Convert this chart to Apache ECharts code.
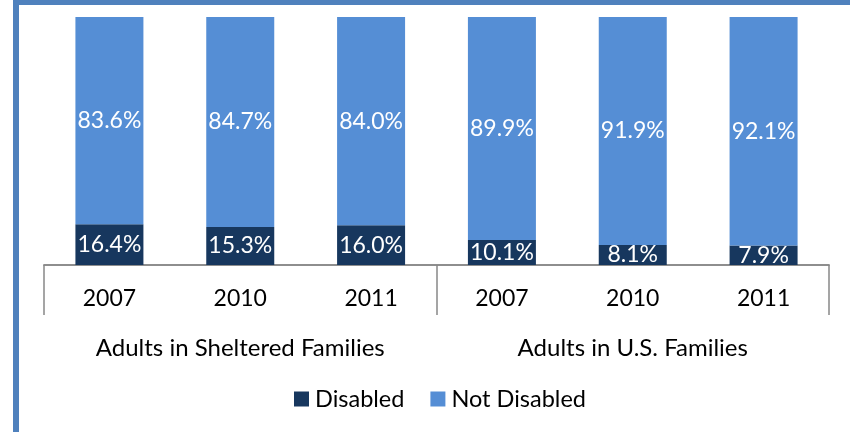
<!DOCTYPE html>
<html>
<head>
<meta charset="utf-8">
<script src="https://cdn.jsdelivr.net/npm/echarts@6/dist/echarts.min.js"></script>
<style>
html,body{margin:0;padding:0;background:#fff;}
#frame{position:absolute;left:13px;top:0;width:837px;height:432px;box-sizing:border-box;border-left:6px solid #4F81BD;border-top:5px solid #4F81BD;}
#chart{position:absolute;left:0;top:0;width:850px;height:432px;}
</style>
</head>
<body>
<div id="frame"></div>
<div id="chart"></div>
<script>
const years = ['2007', '2010', '2011', '2007', '2010', '2011'];
const groups = ['Adults in Sheltered Families', 'Adults in U.S. Families'];
const disabled = [16.4, 15.3, 16.0, 10.1, 8.1, 7.9];
const notDisabled = [83.6, 84.7, 84.0, 89.9, 91.9, 92.1];
const seriesNames = ['Disabled', 'Not Disabled'];

const FONT = 'Lato';
const chart = echarts.init(document.getElementById('chart'), null, {renderer: 'canvas'});
const labelFmt = p => p.value.toFixed(1) + '%';
chart.setOption({
  animation: false,
  textStyle: {fontFamily: FONT},
  legend: {
    data: seriesNames,
    bottom: 16,
    left: 289,
    itemWidth: 15,
    itemHeight: 15,
    itemGap: 26,
    icon: 'rect',
    textStyle: {fontSize: 23.5, color: '#000', fontFamily: FONT, padding: [0, 0, 0, 1]}
  },
  grid: {left: 44, right: 21, top: 17, bottom: 167},
  xAxis: [
    {
      type: 'category',
      data: years,
      position: 'bottom',
      axisLine: {show: true, lineStyle: {color: '#888', width: 1.5}},
      axisTick: {show: false},
      axisLabel: {fontSize: 23, color: '#000', margin: 22, fontFamily: FONT}
    },
    {
      type: 'category',
      data: groups,
      position: 'bottom',
      axisLine: {show: true, lineStyle: {color: '#888', width: 1.5}},
      axisTick: {show: true, length: 50, lineStyle: {color: '#888', width: 1.5}},
      axisLabel: {fontSize: 24, color: '#000', margin: 71, fontFamily: FONT}
    }
  ],
  yAxis: {type: 'value', min: 0, max: 100, show: false, splitLine: {show: false}},
  series: [
    {
      name: seriesNames[0],
      type: 'bar',
      stack: 'a',
      xAxisIndex: 0,
      barWidth: 68,
      data: disabled,
      itemStyle: {color: '#17375E'},
      label: {show: true, position: 'inside', formatter: labelFmt, color: '#fff', fontSize: 23, fontFamily: FONT}
    },
    {
      name: seriesNames[1],
      type: 'bar',
      stack: 'a',
      xAxisIndex: 0,
      barWidth: 68,
      data: notDisabled,
      itemStyle: {color: '#558ED5'},
      label: {show: true, position: 'inside', formatter: labelFmt, color: '#fff', fontSize: 23, fontFamily: FONT}
    }
  ]
});
</script>
</body>
</html>
